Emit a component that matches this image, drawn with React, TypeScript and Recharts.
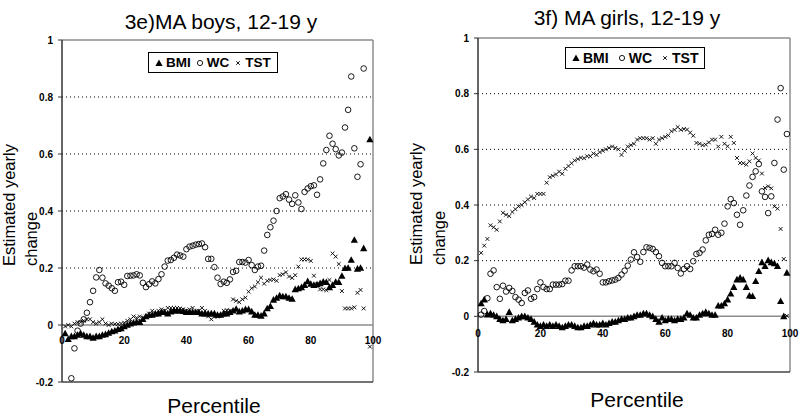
import React from 'react';
import { ScatterChart, Scatter, XAxis, YAxis, ReferenceLine, Legend } from 'recharts';

const FONT = "'Liberation Sans', Arial, Helvetica, sans-serif";

// percentile of each estimate (x)
const percentiles = [
  1, 2, 3, 4, 5, 6, 7, 8, 9, 10, 11, 12, 13, 14, 15, 16, 17, 18, 19, 20,
  21, 22, 23, 24, 25, 26, 27, 28, 29, 30, 31, 32, 33, 34, 35, 36, 37, 38, 39, 40,
  41, 42, 43, 44, 45, 46, 47, 48, 49, 50, 51, 52, 53, 54, 55, 56, 57, 58, 59, 60,
  61, 62, 63, 64, 65, 66, 67, 68, 69, 70, 71, 72, 73, 74, 75, 76, 77, 78, 79, 80,
  81, 82, 83, 84, 85, 86, 87, 88, 89, 90, 91, 92, 93, 94, 95, 96, 97, 98, 99,
];

const xTicks = [0, 20, 40, 60, 80, 100];
const yTicks = [-0.2, 0, 0.2, 0.4, 0.6, 0.8, 1];
const gridValues = [0.2, 0.4, 0.6, 0.8];

// 3e) MA boys (null = not shown on the chart)
const boysBMI = [
  -0.03, -0.05, -0.04, -0.04, -0.035, -0.03, -0.035, -0.04, -0.04, -0.045,
  -0.04, -0.04, -0.035, -0.033, -0.028, -0.023, -0.02, -0.015, -0.012, -0.005,
  0.0, 0.005, 0.008, 0.01, 0.01, 0.02, 0.03, 0.035, 0.035, 0.04,
  0.04, 0.045, 0.045, 0.04, 0.047, 0.05, 0.05, 0.05, 0.048, 0.045,
  0.045, 0.045, 0.045, 0.045, 0.04, 0.04, 0.04, 0.04, 0.04, 0.035,
  0.035, 0.04, 0.04, 0.045, 0.05, 0.056, 0.047, 0.05, 0.055, 0.055,
  0.047, 0.035, 0.035, 0.032, 0.04, 0.058, 0.066, 0.088, 0.095, 0.103,
  0.1, 0.1, 0.095, 0.091, 0.125, 0.128, 0.132, 0.14, 0.153, 0.144,
  0.14, 0.142, 0.146, 0.152, 0.15, 0.132, 0.14, 0.151, 0.15, 0.172,
  0.199, 0.2, 0.228, 0.298, 0.197, 0.2, 0.269, null, 0.651,
];
const boysWC = [
  null, null, -0.187, -0.082, -0.02, 0.005, 0.02, 0.043, 0.08, 0.12,
  0.167, 0.193, 0.166, 0.146, 0.138, 0.129, 0.12, 0.15, 0.152, 0.141,
  0.172, 0.173, 0.174, 0.178, 0.174, 0.148, 0.133, 0.143, 0.153, 0.146,
  0.161, 0.178, 0.205, 0.226, 0.228, 0.236, 0.247, 0.244, 0.24, 0.266,
  0.275, 0.278, 0.282, 0.284, 0.286, 0.273, 0.232, 0.232, 0.203, 0.166,
  0.144, 0.152, 0.148, 0.16, 0.186, 0.19, 0.221, 0.221, 0.219, 0.228,
  0.21, 0.193, 0.205, 0.208, 0.261, 0.316, 0.343, 0.366, 0.4, 0.445,
  0.451, 0.459, 0.44, 0.425, 0.455, 0.43, 0.407, 0.467, 0.479, 0.487,
  0.49, 0.457, 0.511, 0.567, 0.614, 0.664, 0.636, 0.617, 0.595, 0.605,
  0.693, 0.755, 0.872, 0.62, 0.52, 0.564, 0.9, null, null,
];
const boysTST = [
  -0.005, 0.0, -0.005, 0.005, 0.01, 0.01, 0.015, 0.02, 0.02, 0.01,
  0.005, 0.01, 0.02, 0.005, 0.0, 0.005, 0.003, 0.003, 0.005, 0.008,
  0.015, 0.02, 0.03, 0.025, 0.03, 0.025, 0.03, 0.04, 0.05, 0.04,
  0.05, 0.055, 0.05, 0.06, 0.06, 0.06, 0.06, 0.058, 0.055, 0.05,
  0.055, 0.06, 0.045, 0.05, 0.06, 0.05, 0.03, 0.02, 0.029, 0.03,
  0.035, 0.05, 0.052, 0.05, 0.09, 0.085, 0.08, 0.09, 0.096, 0.117,
  0.129, 0.135, 0.15, 0.166, 0.145, 0.155, 0.158, 0.16, 0.155, 0.175,
  0.178, 0.185, 0.17, 0.165, 0.175, 0.205, 0.23, 0.23, 0.23, 0.225,
  0.173, 0.143, 0.125, 0.125, 0.122, 0.158, 0.251, 0.24, 0.214, 0.119,
  0.058, 0.058, 0.058, 0.062, 0.113, 0.123, 0.058, null, -0.076,
];

// 3f) MA girls
const girlsBMI = [
  0.046, 0.06, 0.006, 0.01, 0.005, 0.0, -0.01, -0.015, -0.01, 0.015,
  -0.015, -0.01, -0.005, 0.0, 0.0, -0.005, -0.01, -0.02, -0.03, -0.035,
  -0.03, -0.035, -0.03, -0.035, -0.03, -0.035, -0.04, -0.035, -0.03, -0.03,
  -0.035, -0.04, -0.04, -0.035, -0.035, -0.03, -0.025, -0.03, -0.03, -0.025,
  -0.03, -0.025, -0.02, -0.02, -0.015, -0.01, -0.01, -0.005, -0.005, 0.0,
  0.005, 0.005, 0.01, 0.01, 0.005, 0.0, -0.01, -0.02, -0.005, -0.015,
  -0.01, -0.01, -0.015, -0.01, -0.01, -0.005, 0.01, 0.005, -0.005, -0.005,
  0.005, 0.01, 0.015, 0.01, 0.005, 0.005, 0.038, 0.038, 0.046, 0.06,
  0.081, 0.105, 0.132, 0.138, 0.132, 0.105, 0.074, 0.072, 0.126, 0.162,
  0.194, 0.18, 0.201, 0.194, 0.19, 0.18, 0.054, 0.0, 0.156,
];
const girlsWC = [
  0.006, 0.019, 0.065, 0.153, 0.165, 0.105, 0.063, 0.11, 0.089, 0.102,
  0.091, 0.069, 0.06, 0.048, 0.084, 0.093, 0.063, 0.069, 0.098, 0.122,
  0.105, 0.098, 0.098, 0.114, 0.114, 0.114, 0.116, 0.128, 0.128, 0.165,
  0.18, 0.18, 0.18, 0.175, 0.186, 0.168, 0.162, 0.168, 0.153, 0.122,
  0.122, 0.126, 0.129, 0.132, 0.138, 0.15, 0.164, 0.182, 0.204, 0.23,
  0.213, 0.196, 0.231, 0.248, 0.246, 0.242, 0.231, 0.216, 0.192, 0.18,
  0.18, 0.18, 0.192, 0.174, 0.154, 0.17, 0.18, 0.17, 0.198, 0.224,
  0.228, 0.24, 0.273, 0.293, 0.296, 0.311, 0.293, 0.3, 0.333, 0.395,
  0.421, 0.407, 0.365, 0.329, 0.381, 0.434, 0.47, 0.501, 0.521, 0.547,
  0.449, 0.429, 0.371, 0.431, 0.551, 0.707, 0.82, 0.527, 0.655,
];
const girlsTST = [
  0.228, 0.254, 0.278, 0.327, 0.32, 0.311, 0.341, 0.372, 0.365, 0.36,
  0.375, 0.385, 0.395, 0.4, 0.41, 0.42, 0.43, 0.425, 0.44, 0.44,
  0.44, 0.48, 0.5, 0.505, 0.51, 0.52, 0.512, 0.53, 0.54, 0.55,
  0.56, 0.565, 0.57, 0.568, 0.575, 0.575, 0.585, 0.58, 0.59, 0.595,
  0.6, 0.605, 0.61, 0.605, 0.6, 0.58, 0.595, 0.61, 0.615, 0.62,
  0.635, 0.64, 0.64, 0.64, 0.635, 0.64, 0.62, 0.635, 0.64, 0.645,
  0.65, 0.665, 0.67, 0.68, 0.67, 0.673, 0.671, 0.66, 0.649, 0.623,
  0.62, 0.615, 0.617, 0.625, 0.635, 0.635, 0.61, 0.645, 0.62, 0.611,
  0.645, 0.623, 0.569, 0.551, 0.55, 0.545, 0.557, 0.585, 0.569, 0.56,
  0.513, 0.461, 0.467, 0.46, 0.395, 0.387, 0.314, 0.206, 0.002,
];

type Pt = { p: number; v: number };
const toPoints = (vals: (number | null)[]): Pt[] =>
  percentiles.flatMap((p, i) => (vals[i] == null ? [] : [{ p, v: vals[i] as number }]));

// marker shapes
const TriangleMark = (props: any) => {
  const { cx, cy } = props;
  if (cx == null || cy == null) return null;
  return <path d={`M${cx},${cy - 3.8}L${cx + 3.6},${cy + 2.8}L${cx - 3.6},${cy + 2.8}Z`} fill="#000" />;
};
const CircleMark = (props: any) => {
  const { cx, cy } = props;
  if (cx == null || cy == null) return null;
  return <circle cx={cx} cy={cy} r={2.8} fill="none" stroke="#000" strokeWidth={0.9} />;
};
const CrossMark = (props: any) => {
  const { cx, cy } = props;
  if (cx == null || cy == null) return null;
  const s = 1.9;
  return (
    <path
      d={`M${cx - s},${cy - s}L${cx + s},${cy + s}M${cx - s},${cy + s}L${cx + s},${cy - s}`}
      stroke="#000"
      strokeWidth={0.9}
    />
  );
};

const legendItems = [
  { label: 'BMI', kind: 'tri' },
  { label: 'WC', kind: 'circle' },
  { label: 'TST', kind: 'cross' },
];

const LegendGlyph = ({ kind }: { kind: string }) => (
  <svg width={8} height={8} style={{ display: 'block' }}>
    {kind === 'tri' && <path d="M4,0.6L7.6,7L0.4,7Z" fill="#000" />}
    {kind === 'circle' && <circle cx={4} cy={4} r={2.6} fill="none" stroke="#000" strokeWidth={0.9} />}
    {kind === 'cross' && <path d="M2.2,2.2L5.8,5.8M2.2,5.8L5.8,2.2" stroke="#000" strokeWidth={0.9} />}
  </svg>
);

const LegendBox = ({ fontSize, gap, height }: { fontSize: number; gap: number; height: number }) => (
  <div
    style={{
      display: 'flex',
      alignItems: 'center',
      height,
      boxSizing: 'border-box',
      border: '1px solid #000',
      background: '#fff',
      paddingLeft: 6,
      paddingRight: 6,
      fontFamily: FONT,
      fontWeight: 'bold',
      fontSize,
      color: '#000',
      whiteSpace: 'nowrap',
    }}
  >
    {legendItems.map((it, i) => (
      <div key={it.label} style={{ display: 'flex', alignItems: 'center', marginLeft: i === 0 ? 0 : gap }}>
        <LegendGlyph kind={it.kind} />
        <span style={{ marginLeft: 3 }}>{it.label}</span>
      </div>
    ))}
  </div>
);

type PanelCfg = {
  left: number;
  title: string;
  bmi: (number | null)[];
  wc: (number | null)[];
  tst: (number | null)[];
  margin: { top: number; right: number; bottom: number; left: number };
  xLabelLift: number;
  titleX: number;
  titleY: number;
  xTitleX: number;
  xTitleY: number;
  yTitleX1: number;
  yTitleX2: number;
  yTitleBottom: number;
  legend: { left: number; top: number; fontSize: number; gap: number; height: number };
};

const panels: PanelCfg[] = [
  {
    left: 0,
    title: '3e)MA boys, 12-19 y',
    bmi: boysBMI,
    wc: boysWC,
    tst: boysTST,
    margin: { top: 40, right: 27, bottom: 16, left: 12 },
    xLabelLift: 38,
    titleX: 221,
    titleY: 29,
    xTitleX: 214,
    xTitleY: 413,
    yTitleX1: 15,
    yTitleX2: 37,
    yTitleBottom: 266,
    legend: { left: 148, top: 52, fontSize: 13.5, gap: 5, height: 21 },
  },
  {
    left: 400,
    title: '3f) MA girls, 12-19 y',
    bmi: girlsBMI,
    wc: girlsWC,
    tst: girlsTST,
    margin: { top: 38, right: 10, bottom: 26, left: 28 },
    xLabelLift: 35,
    titleX: 227,
    titleY: 25,
    xTitleX: 237,
    xTitleY: 407,
    yTitleX1: 22,
    yTitleX2: 45,
    yTitleBottom: 265,
    legend: { left: 165, top: 47, fontSize: 14, gap: 9, height: 22 },
  },
];

const Panel = ({ cfg }: { cfg: PanelCfg }) => {
  const XTick = (props: any) => {
    const { x, y, payload } = props;
    return (
      <text x={x} y={y - cfg.xLabelLift} textAnchor="middle" fontSize={10} fontWeight="bold" fontFamily={FONT} fill="#000">
        {payload.value}
      </text>
    );
  };
  return (
    <div style={{ position: 'absolute', left: cfg.left, top: 0, width: 400, height: 418 }}>
      <ScatterChart width={400} height={418} margin={cfg.margin}>
        {gridValues.map((g) => (
          <ReferenceLine key={g} y={g} stroke="#000" strokeDasharray="1 3" strokeWidth={1} />
        ))}
        <ReferenceLine y={0} stroke="#8c8c8c" strokeWidth={1.5} />
        <ReferenceLine y={1} stroke="#8c8c8c" strokeWidth={1.5} />
        <ReferenceLine x={100} stroke="#8c8c8c" strokeWidth={1.5} />
        <XAxis
          type="number"
          dataKey="p"
          domain={[0, 100]}
          ticks={xTicks}
          height={20}
          tickSize={0}
          tickMargin={0}
          tickLine={false}
          axisLine={{ stroke: '#444', strokeWidth: 1.5 }}
          tick={XTick}
          interval={0}
        />
        <YAxis
          type="number"
          dataKey="v"
          domain={[-0.2, 1]}
          ticks={yTicks}
          width={50}
          tickSize={4}
          tickMargin={5}
          interval={0}
          tickFormatter={(v: number) => String(v)}
          axisLine={{ stroke: '#333', strokeWidth: 1.5 }}
          tickLine={{ stroke: '#333' }}
          tick={{ fontSize: 10, fontWeight: 'bold', fill: '#000', fontFamily: FONT }}
        />
        <Legend
          layout="horizontal"
          verticalAlign="middle"
          align="center"
          wrapperStyle={{ left: cfg.legend.left, top: cfg.legend.top, width: 'auto', height: 'auto' }}
          content={() => <LegendBox fontSize={cfg.legend.fontSize} gap={cfg.legend.gap} height={cfg.legend.height} />}
        />
        <Scatter name="BMI" data={toPoints(cfg.bmi)} shape={TriangleMark} isAnimationActive={false} />
        <Scatter name="WC" data={toPoints(cfg.wc)} shape={CircleMark} isAnimationActive={false} />
        <Scatter name="TST" data={toPoints(cfg.tst)} shape={CrossMark} isAnimationActive={false} />
      </ScatterChart>
      <svg width={400} height={418} style={{ position: 'absolute', left: 0, top: 0, pointerEvents: 'none' }}>
        <text x={cfg.titleX} y={cfg.titleY} textAnchor="middle" fontSize={21} fontFamily={FONT} fill="#000">
          {cfg.title}
        </text>
        <text x={cfg.xTitleX} y={cfg.xTitleY} textAnchor="middle" fontSize={21} fontFamily={FONT} fill="#000">
          Percentile
        </text>
        <text
          x={cfg.yTitleX1}
          y={cfg.yTitleBottom}
          transform={`rotate(-90 ${cfg.yTitleX1} ${cfg.yTitleBottom})`}
          fontSize={16.5}
          fontFamily={FONT}
          fill="#000"
        >
          Estimated yearly
        </text>
        <text
          x={cfg.yTitleX2}
          y={cfg.yTitleBottom}
          transform={`rotate(-90 ${cfg.yTitleX2} ${cfg.yTitleBottom})`}
          fontSize={16.5}
          fontFamily={FONT}
          fill="#000"
        >
          change
        </text>
      </svg>
    </div>
  );
}
;

export default function App() {
  return (
    <div style={{ position: 'absolute', left: 0, top: 0, width: 800, height: 418, background: '#fff', overflow: 'hidden' }}>
      {panels.map((cfg) => (
        <Panel key={cfg.title} cfg={cfg} />
      ))}
    </div>
  );
}
